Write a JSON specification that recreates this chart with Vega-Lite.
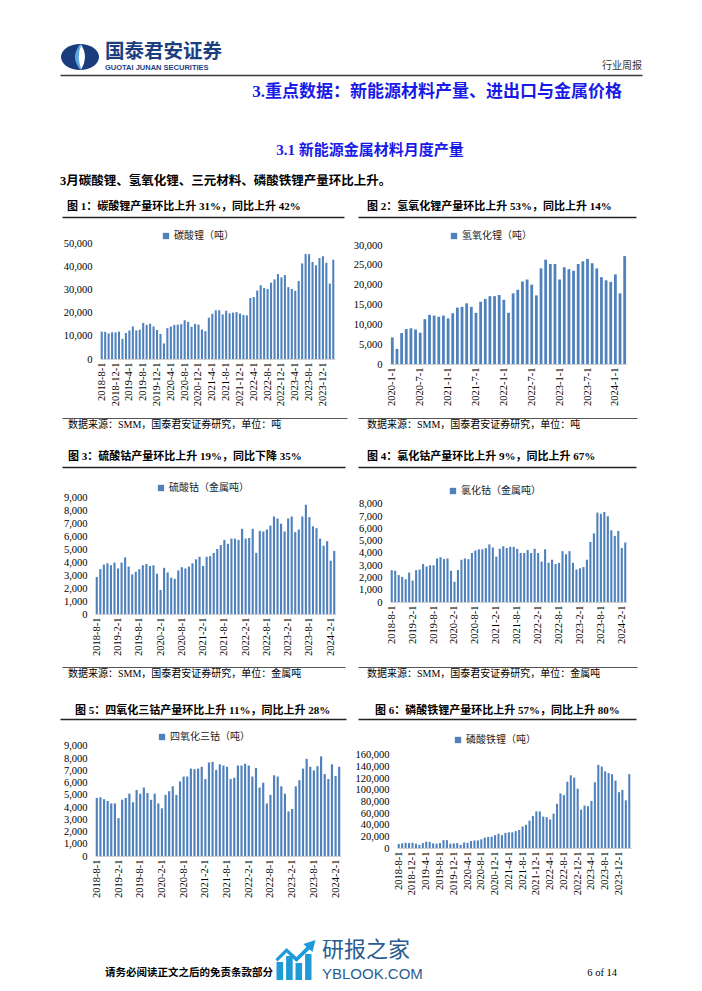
{
"$schema": "https://vega.github.io/schema/vega-lite/v6.json",
"padding": {"left": 60, "top": 42, "right": 55, "bottom": 0},
"background": "white",
"config": {
 "view": {"stroke": null},
 "font": "Noto Sans CJK SC",
 "axis": {"grid": false},
 "axisX": {"labelAngle": -90, "labelFont": "Liberation Serif", "labelFontSize": 10.5, "labelColor": "#000", "labelPadding": 3, "ticks": false, "domainColor": "#D0D0D0", "labelOverlap": false, "labelBound": false},
 "axisY": {"labelFont": "Liberation Serif", "labelFontSize": 10.5, "labelColor": "#000", "labelPadding": 8, "ticks": false, "domain": false, "labelExpr": "format(datum.value, ',')"},
 "legend": {"orient": "none", "direction": "horizontal", "symbolType": "square", "symbolSize": 40, "symbolStrokeWidth": 0, "labelFont": "Noto Sans CJK SC", "labelFontSize": 10, "labelColor": "#222", "padding": 0, "labelOffset": 3},
 "title": {"frame": "group", "color": "#000"}
},
"datasets": {
 "c1": [{"m":"2018-8-1","v":11800},{"m":"2018-9-1","v":11700},{"m":"2018-10-1","v":11000},{"m":"2018-11-1","v":11500},{"m":"2018-12-1","v":11500},{"m":"2019-1-1","v":11800},{"m":"2019-2-1","v":8700},{"m":"2019-3-1","v":11200},{"m":"2019-4-1","v":12300},{"m":"2019-5-1","v":14000},{"m":"2019-6-1","v":12300},{"m":"2019-7-1","v":12600},{"m":"2019-8-1","v":15500},{"m":"2019-9-1","v":14700},{"m":"2019-10-1","v":15200},{"m":"2019-11-1","v":14000},{"m":"2019-12-1","v":12500},{"m":"2020-1-1","v":10800},{"m":"2020-2-1","v":6700},{"m":"2020-3-1","v":13300},{"m":"2020-4-1","v":14000},{"m":"2020-5-1","v":14700},{"m":"2020-6-1","v":14800},{"m":"2020-7-1","v":15000},{"m":"2020-8-1","v":16700},{"m":"2020-9-1","v":16000},{"m":"2020-10-1","v":13900},{"m":"2020-11-1","v":15100},{"m":"2020-12-1","v":14800},{"m":"2021-1-1","v":12700},{"m":"2021-2-1","v":12000},{"m":"2021-3-1","v":17800},{"m":"2021-4-1","v":19500},{"m":"2021-5-1","v":21000},{"m":"2021-6-1","v":21000},{"m":"2021-7-1","v":19200},{"m":"2021-8-1","v":20800},{"m":"2021-9-1","v":19700},{"m":"2021-10-1","v":20000},{"m":"2021-11-1","v":20200},{"m":"2021-12-1","v":19600},{"m":"2022-1-1","v":19000},{"m":"2022-2-1","v":18800},{"m":"2022-3-1","v":26300},{"m":"2022-4-1","v":26700},{"m":"2022-5-1","v":29500},{"m":"2022-6-1","v":31800},{"m":"2022-7-1","v":30600},{"m":"2022-8-1","v":30200},{"m":"2022-9-1","v":32900},{"m":"2022-10-1","v":34300},{"m":"2022-11-1","v":36600},{"m":"2022-12-1","v":35200},{"m":"2023-1-1","v":36200},{"m":"2023-2-1","v":31000},{"m":"2023-3-1","v":30200},{"m":"2023-4-1","v":29400},{"m":"2023-5-1","v":33600},{"m":"2023-6-1","v":41200},{"m":"2023-7-1","v":45300},{"m":"2023-8-1","v":45200},{"m":"2023-9-1","v":41800},{"m":"2023-10-1","v":40400},{"m":"2023-11-1","v":43500},{"m":"2023-12-1","v":44300},{"m":"2024-1-1","v":41500},{"m":"2024-2-1","v":32500},{"m":"2024-3-1","v":42800}],
 "c2": [{"m":"2020-1-1","v":6700},{"m":"2020-2-1","v":3800},{"m":"2020-3-1","v":7800},{"m":"2020-4-1","v":8800},{"m":"2020-5-1","v":9000},{"m":"2020-6-1","v":8700},{"m":"2020-7-1","v":7900},{"m":"2020-8-1","v":11300},{"m":"2020-9-1","v":12400},{"m":"2020-10-1","v":12200},{"m":"2020-11-1","v":11900},{"m":"2020-12-1","v":12200},{"m":"2021-1-1","v":11500},{"m":"2021-2-1","v":12800},{"m":"2021-3-1","v":14200},{"m":"2021-4-1","v":14400},{"m":"2021-5-1","v":15300},{"m":"2021-6-1","v":14400},{"m":"2021-7-1","v":12900},{"m":"2021-8-1","v":15700},{"m":"2021-9-1","v":16400},{"m":"2021-10-1","v":17100},{"m":"2021-11-1","v":17100},{"m":"2021-12-1","v":17400},{"m":"2022-1-1","v":16200},{"m":"2022-2-1","v":12900},{"m":"2022-3-1","v":17800},{"m":"2022-4-1","v":18700},{"m":"2022-5-1","v":20800},{"m":"2022-6-1","v":21300},{"m":"2022-7-1","v":20000},{"m":"2022-8-1","v":17300},{"m":"2022-9-1","v":24100},{"m":"2022-10-1","v":26300},{"m":"2022-11-1","v":25200},{"m":"2022-12-1","v":25200},{"m":"2023-1-1","v":21300},{"m":"2023-2-1","v":24400},{"m":"2023-3-1","v":23900},{"m":"2023-4-1","v":23500},{"m":"2023-5-1","v":25200},{"m":"2023-6-1","v":25900},{"m":"2023-7-1","v":26500},{"m":"2023-8-1","v":25400},{"m":"2023-9-1","v":24100},{"m":"2023-10-1","v":21900},{"m":"2023-11-1","v":21100},{"m":"2023-12-1","v":20700},{"m":"2024-1-1","v":22600},{"m":"2024-2-1","v":17800},{"m":"2024-3-1","v":27200}],
 "c3": [{"m":"2018-8-1","v":2850},{"m":"2018-9-1","v":3450},{"m":"2018-10-1","v":3800},{"m":"2018-11-1","v":3900},{"m":"2018-12-1","v":3750},{"m":"2019-1-1","v":3950},{"m":"2019-2-1","v":3500},{"m":"2019-3-1","v":3950},{"m":"2019-4-1","v":4350},{"m":"2019-5-1","v":3650},{"m":"2019-6-1","v":3050},{"m":"2019-7-1","v":3250},{"m":"2019-8-1","v":3450},{"m":"2019-9-1","v":3750},{"m":"2019-10-1","v":3850},{"m":"2019-11-1","v":3700},{"m":"2019-12-1","v":3750},{"m":"2020-1-1","v":3100},{"m":"2020-2-1","v":1850},{"m":"2020-3-1","v":3550},{"m":"2020-4-1","v":3200},{"m":"2020-5-1","v":2800},{"m":"2020-6-1","v":2700},{"m":"2020-7-1","v":3350},{"m":"2020-8-1","v":3600},{"m":"2020-9-1","v":3500},{"m":"2020-10-1","v":3650},{"m":"2020-11-1","v":3900},{"m":"2020-12-1","v":4200},{"m":"2021-1-1","v":4400},{"m":"2021-2-1","v":3700},{"m":"2021-3-1","v":4400},{"m":"2021-4-1","v":4450},{"m":"2021-5-1","v":4700},{"m":"2021-6-1","v":5000},{"m":"2021-7-1","v":5300},{"m":"2021-8-1","v":5700},{"m":"2021-9-1","v":5400},{"m":"2021-10-1","v":5800},{"m":"2021-11-1","v":5800},{"m":"2021-12-1","v":5700},{"m":"2022-1-1","v":6550},{"m":"2022-2-1","v":5800},{"m":"2022-3-1","v":5850},{"m":"2022-4-1","v":6550},{"m":"2022-5-1","v":4700},{"m":"2022-6-1","v":6400},{"m":"2022-7-1","v":6350},{"m":"2022-8-1","v":6500},{"m":"2022-9-1","v":6800},{"m":"2022-10-1","v":7500},{"m":"2022-11-1","v":7350},{"m":"2022-12-1","v":6950},{"m":"2023-1-1","v":6350},{"m":"2023-2-1","v":7350},{"m":"2023-3-1","v":7500},{"m":"2023-4-1","v":6300},{"m":"2023-5-1","v":6500},{"m":"2023-6-1","v":7500},{"m":"2023-7-1","v":8400},{"m":"2023-8-1","v":7450},{"m":"2023-9-1","v":6750},{"m":"2023-10-1","v":6600},{"m":"2023-11-1","v":5800},{"m":"2023-12-1","v":5250},{"m":"2024-1-1","v":5600},{"m":"2024-2-1","v":4100},{"m":"2024-3-1","v":4850}],
 "c4": [{"m":"2018-8-1","v":2600},{"m":"2018-9-1","v":2550},{"m":"2018-10-1","v":2200},{"m":"2018-11-1","v":2050},{"m":"2018-12-1","v":1850},{"m":"2019-1-1","v":2400},{"m":"2019-2-1","v":1750},{"m":"2019-3-1","v":2600},{"m":"2019-4-1","v":2650},{"m":"2019-5-1","v":3100},{"m":"2019-6-1","v":2900},{"m":"2019-7-1","v":3000},{"m":"2019-8-1","v":3000},{"m":"2019-9-1","v":3550},{"m":"2019-10-1","v":3650},{"m":"2019-11-1","v":3500},{"m":"2019-12-1","v":3550},{"m":"2020-1-1","v":2550},{"m":"2020-2-1","v":1650},{"m":"2020-3-1","v":2600},{"m":"2020-4-1","v":3450},{"m":"2020-5-1","v":3550},{"m":"2020-6-1","v":3500},{"m":"2020-7-1","v":4000},{"m":"2020-8-1","v":4200},{"m":"2020-9-1","v":4300},{"m":"2020-10-1","v":4300},{"m":"2020-11-1","v":4400},{"m":"2020-12-1","v":4700},{"m":"2021-1-1","v":4450},{"m":"2021-2-1","v":3700},{"m":"2021-3-1","v":4350},{"m":"2021-4-1","v":4550},{"m":"2021-5-1","v":4400},{"m":"2021-6-1","v":4500},{"m":"2021-7-1","v":4500},{"m":"2021-8-1","v":4350},{"m":"2021-9-1","v":4000},{"m":"2021-10-1","v":4000},{"m":"2021-11-1","v":4250},{"m":"2021-12-1","v":4000},{"m":"2022-1-1","v":4350},{"m":"2022-2-1","v":4000},{"m":"2022-3-1","v":3300},{"m":"2022-4-1","v":4300},{"m":"2022-5-1","v":3200},{"m":"2022-6-1","v":3450},{"m":"2022-7-1","v":3100},{"m":"2022-8-1","v":3200},{"m":"2022-9-1","v":4150},{"m":"2022-10-1","v":3900},{"m":"2022-11-1","v":4150},{"m":"2022-12-1","v":3200},{"m":"2023-1-1","v":2650},{"m":"2023-2-1","v":2750},{"m":"2023-3-1","v":2850},{"m":"2023-4-1","v":3450},{"m":"2023-5-1","v":4900},{"m":"2023-6-1","v":5600},{"m":"2023-7-1","v":7300},{"m":"2023-8-1","v":7200},{"m":"2023-9-1","v":7350},{"m":"2023-10-1","v":7000},{"m":"2023-11-1","v":5850},{"m":"2023-12-1","v":5400},{"m":"2024-1-1","v":5800},{"m":"2024-2-1","v":4400},{"m":"2024-3-1","v":4850}],
 "c5": [{"m":"2018-8-1","v":4750},{"m":"2018-9-1","v":4800},{"m":"2018-10-1","v":4650},{"m":"2018-11-1","v":4500},{"m":"2018-12-1","v":4300},{"m":"2019-1-1","v":4300},{"m":"2019-2-1","v":3100},{"m":"2019-3-1","v":4600},{"m":"2019-4-1","v":4750},{"m":"2019-5-1","v":5100},{"m":"2019-6-1","v":4400},{"m":"2019-7-1","v":5400},{"m":"2019-8-1","v":5100},{"m":"2019-9-1","v":5600},{"m":"2019-10-1","v":5150},{"m":"2019-11-1","v":4600},{"m":"2019-12-1","v":5100},{"m":"2020-1-1","v":4300},{"m":"2020-2-1","v":3900},{"m":"2020-3-1","v":5000},{"m":"2020-4-1","v":5300},{"m":"2020-5-1","v":5700},{"m":"2020-6-1","v":5000},{"m":"2020-7-1","v":6100},{"m":"2020-8-1","v":6500},{"m":"2020-9-1","v":6500},{"m":"2020-10-1","v":7150},{"m":"2020-11-1","v":7100},{"m":"2020-12-1","v":7150},{"m":"2021-1-1","v":7300},{"m":"2021-2-1","v":6300},{"m":"2021-3-1","v":7650},{"m":"2021-4-1","v":7700},{"m":"2021-5-1","v":7050},{"m":"2021-6-1","v":7500},{"m":"2021-7-1","v":7400},{"m":"2021-8-1","v":7300},{"m":"2021-9-1","v":6300},{"m":"2021-10-1","v":6400},{"m":"2021-11-1","v":7400},{"m":"2021-12-1","v":7400},{"m":"2022-1-1","v":7550},{"m":"2022-2-1","v":7400},{"m":"2022-3-1","v":6500},{"m":"2022-4-1","v":7200},{"m":"2022-5-1","v":5600},{"m":"2022-6-1","v":6000},{"m":"2022-7-1","v":4300},{"m":"2022-8-1","v":5000},{"m":"2022-9-1","v":6600},{"m":"2022-10-1","v":6500},{"m":"2022-11-1","v":5700},{"m":"2022-12-1","v":5100},{"m":"2023-1-1","v":3650},{"m":"2023-2-1","v":3850},{"m":"2023-3-1","v":5700},{"m":"2023-4-1","v":6200},{"m":"2023-5-1","v":7150},{"m":"2023-6-1","v":7950},{"m":"2023-7-1","v":7300},{"m":"2023-8-1","v":7000},{"m":"2023-9-1","v":7350},{"m":"2023-10-1","v":8150},{"m":"2023-11-1","v":6700},{"m":"2023-12-1","v":6300},{"m":"2024-1-1","v":7500},{"m":"2024-2-1","v":6550},{"m":"2024-3-1","v":7300}],
 "c6": [{"m":"2018-8-1","v":7000},{"m":"2018-9-1","v":8000},{"m":"2018-10-1","v":9000},{"m":"2018-11-1","v":8500},{"m":"2018-12-1","v":9000},{"m":"2019-1-1","v":7500},{"m":"2019-2-1","v":5500},{"m":"2019-3-1","v":8500},{"m":"2019-4-1","v":11000},{"m":"2019-5-1","v":10500},{"m":"2019-6-1","v":8000},{"m":"2019-7-1","v":7500},{"m":"2019-8-1","v":8500},{"m":"2019-9-1","v":13500},{"m":"2019-10-1","v":13500},{"m":"2019-11-1","v":7500},{"m":"2019-12-1","v":8000},{"m":"2020-1-1","v":8500},{"m":"2020-2-1","v":5500},{"m":"2020-3-1","v":9500},{"m":"2020-4-1","v":9000},{"m":"2020-5-1","v":12000},{"m":"2020-6-1","v":13000},{"m":"2020-7-1","v":13000},{"m":"2020-8-1","v":15000},{"m":"2020-9-1","v":18000},{"m":"2020-10-1","v":19000},{"m":"2020-11-1","v":19500},{"m":"2020-12-1","v":22000},{"m":"2021-1-1","v":24500},{"m":"2021-2-1","v":22000},{"m":"2021-3-1","v":26000},{"m":"2021-4-1","v":27000},{"m":"2021-5-1","v":27000},{"m":"2021-6-1","v":29000},{"m":"2021-7-1","v":31000},{"m":"2021-8-1","v":37000},{"m":"2021-9-1","v":40000},{"m":"2021-10-1","v":47000},{"m":"2021-11-1","v":55000},{"m":"2021-12-1","v":63000},{"m":"2022-1-1","v":63000},{"m":"2022-2-1","v":54000},{"m":"2022-3-1","v":53000},{"m":"2022-4-1","v":49000},{"m":"2022-5-1","v":59000},{"m":"2022-6-1","v":76000},{"m":"2022-7-1","v":94000},{"m":"2022-8-1","v":91000},{"m":"2022-9-1","v":114000},{"m":"2022-10-1","v":125000},{"m":"2022-11-1","v":121000},{"m":"2022-12-1","v":102000},{"m":"2023-1-1","v":66000},{"m":"2023-2-1","v":73000},{"m":"2023-3-1","v":72000},{"m":"2023-4-1","v":81000},{"m":"2023-5-1","v":113000},{"m":"2023-6-1","v":143000},{"m":"2023-7-1","v":140000},{"m":"2023-8-1","v":132000},{"m":"2023-9-1","v":129000},{"m":"2023-10-1","v":127000},{"m":"2023-11-1","v":116000},{"m":"2023-12-1","v":96000},{"m":"2024-1-1","v":100000},{"m":"2024-2-1","v":82000},{"m":"2024-3-1","v":127000}]
},
"spacing": 0,
"resolve": {"scale": {"color": "independent"}, "legend": {"color": "independent"}},
"vconcat": [
 {"hconcat": [
   {"width": 40, "height": 26, "data": {"values": [{}]}, "layer": [
     {"mark": {"type": "point", "shape": "M-1,0 A1,0.68 0 1,1 1,0 A1,0.68 0 1,1 -1,0 Z", "size": 1444, "filled": true, "color": "#1B3C7C", "opacity": 1}},
     {"mark": {"type": "point", "shape": "M0.02,-0.68 Q-0.55,0 0.02,0.68 Q0.5,0 0.02,-0.68 Z", "size": 1444, "filled": true, "color": "#5AA7DC", "opacity": 1}},
     {"mark": {"type": "point", "shape": "M0.07,-0.64 Q-0.2,0 0.07,0.64 Q0.45,0 0.07,-0.64 Z", "size": 1444, "filled": true, "color": "#FFFFFF", "opacity": 1}}
   ]},
   {"width": 470, "height": 30, "data": {"values": []}, "mark": "point", "title": {"text": "国泰君安证券", "subtitle": "GUOTAI JUNAN SECURITIES", "orient": "top", "anchor": "start", "offset": -28, "dx": 5, "font": "Noto Sans CJK SC", "fontSize": 19.5, "fontWeight": "bold", "color": "#1D3E80", "subtitleFont": "Liberation Sans", "subtitleFontSize": 7.5, "subtitleFontWeight": "bold", "subtitleColor": "#1D3E80", "subtitlePadding": 1}},
   {"width": 72, "height": 30, "data": {"values": []}, "mark": "point", "title": {"text": "行业周报", "orient": "top", "anchor": "end", "offset": -27, "font": "Noto Sans CJK SC", "fontSize": 10, "fontWeight": "normal", "color": "#333"}}
  ], "spacing": 0, "bounds": "flush"},
 {"width": 582, "height": 1, "data": {"values": []}, "mark": "point", "encoding": {"x": {"field": "v", "type": "quantitative", "scale": {"domain": [0, 1]}, "axis": {"title": null, "labels": false, "ticks": false, "domain": true, "domainColor": "#3A3A3A", "domainWidth": 1.5}}}},
 {"width": 562, "height": 27, "data": {"values": []}, "mark": "point", "title": {"text": "3.重点数据：新能源材料产量、进出口与金属价格", "orient": "top", "anchor": "end", "offset": -26, "font": "Liberation Serif, Noto Sans CJK SC", "fontSize": 17, "fontWeight": "bold", "color": "#1A1AE6"}},
 {"width": 582, "height": 57, "data": {"values": []}, "mark": "point", "title": {"text": "3.1 新能源金属材料月度产量", "orient": "top", "anchor": "middle", "dx": 19, "offset": -56, "font": "Liberation Serif, Noto Sans CJK SC", "fontSize": 15, "fontWeight": "bold", "color": "#1A1AE6"}},
 {"width": 582, "height": 29, "data": {"values": []}, "mark": "point", "title": {"text": "3月碳酸锂、氢氧化锂、三元材料、磷酸铁锂产量环比上升。", "orient": "top", "anchor": "start", "offset": -28, "font": "Liberation Serif, Noto Sans CJK SC", "fontSize": 12.5, "fontWeight": "bold", "color": "#000"}},
 {"hconcat": [
   {"width": 2, "height": 1, "data": {"values": []}, "mark": "point"},
   {"width": 282, "height": 29, "data": {"values": []}, "mark": "point", "encoding": {"x": {"field": "v", "type": "quantitative", "scale": {"domain": [0, 1]}, "axis": {"title": null, "labels": false, "ticks": false, "domain": true, "domainColor": "#222", "domainWidth": 1.5}}}, "title": {"text": "图 1：碳酸锂产量环比上升 31%，同比上升 42%", "orient": "top", "anchor": "start", "dx": 5, "offset": -24, "font": "Liberation Serif, Noto Sans CJK SC", "fontSize": 11, "fontWeight": "bold"}},
   {"width": 14, "height": 1, "data": {"values": []}, "mark": "point"},
   {"width": 278, "height": 29, "data": {"values": []}, "mark": "point", "encoding": {"x": {"field": "v", "type": "quantitative", "scale": {"domain": [0, 1]}, "axis": {"title": null, "labels": false, "ticks": false, "domain": true, "domainColor": "#222", "domainWidth": 1.5}}}, "title": {"text": "图 2：氢氧化锂产量环比上升 53%，同比上升 14%", "orient": "top", "anchor": "start", "dx": 9, "offset": -24, "font": "Liberation Serif, Noto Sans CJK SC", "fontSize": 11, "fontWeight": "bold"}}
  ], "spacing": 0, "bounds": "flush"},
 {"hconcat": [
   {"width": 40, "height": 201, "data": {"values": []}, "mark": "point"},
   {"width": 235, "height": 142, "data": {"name": "c1"}, "mark": "bar",
    "encoding": {
     "x": {"field": "m", "type": "ordinal", "sort": null, "scale": {"paddingInner": 0.4, "paddingOuter": 0.2}, "axis": {"title": null, "values": ["2018-8-1","2018-12-1","2019-4-1","2019-8-1","2019-12-1","2020-4-1","2020-8-1","2020-12-1","2021-4-1","2021-8-1","2021-12-1","2022-4-1","2022-8-1","2022-12-1","2023-4-1","2023-8-1","2023-12-1"]}},
     "y": {"field": "v", "type": "quantitative", "scale": {"domain": [0, 61207], "nice": false}, "axis": {"title": null, "values": [0,10000,20000,30000,40000,50000]}},
     "color": {"datum": "碳酸锂（吨）", "type": "nominal", "scale": {"range": ["#4F81BD"]}, "legend": {"title": null, "legendX": 61, "legendY": 14}}
    }},
   {"width": 55, "height": 1, "data": {"values": []}, "mark": "point"},
   {"width": 237, "height": 147, "data": {"name": "c2"}, "mark": "bar",
    "encoding": {
     "x": {"field": "m", "type": "ordinal", "sort": null, "scale": {"paddingInner": 0.4, "paddingOuter": 0.2}, "axis": {"title": null, "values": ["2020-1-1","2020-7-1","2021-1-1","2021-7-1","2022-1-1","2022-7-1","2023-1-1","2023-7-1","2024-1-1"]}},
     "y": {"field": "v", "type": "quantitative", "scale": {"domain": [0, 37059], "nice": false}, "axis": {"title": null, "values": [0,5000,10000,15000,20000,25000,30000]}},
     "color": {"datum": "氢氧化锂（吨）", "type": "nominal", "scale": {"range": ["#4F81BD"]}, "legend": {"title": null, "legendX": 59, "legendY": 14}}
    }}
  ], "spacing": 0, "bounds": "flush", "resolve": {"scale": {"color": "independent"}, "legend": {"color": "independent"}}},
 {"hconcat": [
   {"width": 2, "height": 1, "data": {"values": []}, "mark": "point"},
   {"width": 285, "height": 14, "data": {"values": []}, "mark": "point", "encoding": {"x": {"field": "v", "type": "quantitative", "scale": {"domain": [0, 1]}, "axis": {"orient": "top", "title": null, "labels": false, "ticks": false, "domain": true, "domainColor": "#555", "domainWidth": 1.2}}}, "title": {"text": "数据来源：SMM，国泰君安证券研究，单位：吨", "orient": "bottom", "anchor": "start", "dx": 6, "offset": -12, "font": "Liberation Serif, Noto Sans CJK SC", "fontSize": 10, "fontWeight": "normal"}},
   {"width": 11, "height": 1, "data": {"values": []}, "mark": "point"},
   {"width": 279, "height": 14, "data": {"values": []}, "mark": "point", "encoding": {"x": {"field": "v", "type": "quantitative", "scale": {"domain": [0, 1]}, "axis": {"orient": "top", "title": null, "labels": false, "ticks": false, "domain": true, "domainColor": "#555", "domainWidth": 1.2}}}, "title": {"text": "数据来源：SMM，国泰君安证券研究，单位：吨", "orient": "bottom", "anchor": "start", "dx": 9, "offset": -12, "font": "Liberation Serif, Noto Sans CJK SC", "fontSize": 10, "fontWeight": "normal"}}
  ], "spacing": 0, "bounds": "flush"},
 {"hconcat": [
   {"width": 2, "height": 1, "data": {"values": []}, "mark": "point"},
   {"width": 283, "height": 35, "data": {"values": []}, "mark": "point", "encoding": {"x": {"field": "v", "type": "quantitative", "scale": {"domain": [0, 1]}, "axis": {"title": null, "labels": false, "ticks": false, "domain": true, "domainColor": "#222", "domainWidth": 1.5}}}, "title": {"text": "图 3：硫酸钴产量环比上升 19%，同比下降 35%", "orient": "top", "anchor": "start", "dx": 6, "offset": -30, "font": "Liberation Serif, Noto Sans CJK SC", "fontSize": 11, "fontWeight": "bold"}},
   {"width": 13, "height": 1, "data": {"values": []}, "mark": "point"},
   {"width": 278, "height": 35, "data": {"values": []}, "mark": "point", "encoding": {"x": {"field": "v", "type": "quantitative", "scale": {"domain": [0, 1]}, "axis": {"title": null, "labels": false, "ticks": false, "domain": true, "domainColor": "#222", "domainWidth": 1.5}}}, "title": {"text": "图 4：氯化钴产量环比上升 9%，同比上升 67%", "orient": "top", "anchor": "start", "dx": 9, "offset": -30, "font": "Liberation Serif, Noto Sans CJK SC", "fontSize": 11, "fontWeight": "bold"}}
  ], "spacing": 0, "bounds": "flush"},
 {"hconcat": [
   {"width": 35, "height": 200, "data": {"values": []}, "mark": "point"},
   {"width": 241, "height": 147, "data": {"name": "c3"}, "mark": "bar",
    "encoding": {
     "x": {"field": "m", "type": "ordinal", "sort": null, "scale": {"paddingInner": 0.4, "paddingOuter": 0.2}, "axis": {"title": null, "values": ["2018-8-1","2019-2-1","2019-8-1","2020-2-1","2020-8-1","2021-2-1","2021-8-1","2022-2-1","2022-8-1","2023-2-1","2023-8-1","2024-2-1"]}},
     "y": {"field": "v", "type": "quantitative", "scale": {"domain": [0, 11308], "nice": false}, "axis": {"title": null, "values": [0,1000,2000,3000,4000,5000,6000,7000,8000,9000]}},
     "color": {"datum": "硫酸钴（金属吨）", "type": "nominal", "scale": {"range": ["#4F81BD"]}, "legend": {"title": null, "legendX": 61, "legendY": 16}}
    }},
   {"width": 54, "height": 1, "data": {"values": []}, "mark": "point"},
   {"width": 237, "height": 135, "data": {"name": "c4"}, "mark": "bar",
    "encoding": {
     "x": {"field": "m", "type": "ordinal", "sort": null, "scale": {"paddingInner": 0.4, "paddingOuter": 0.2}, "axis": {"title": null, "values": ["2018-8-1","2019-2-1","2019-8-1","2020-2-1","2020-8-1","2021-2-1","2021-8-1","2022-2-1","2022-8-1","2023-2-1","2023-8-1","2024-2-1"]}},
     "y": {"field": "v", "type": "quantitative", "scale": {"domain": [0, 11020], "nice": false}, "axis": {"title": null, "values": [0,1000,2000,3000,4000,5000,6000,7000,8000]}},
     "color": {"datum": "氯化钴（金属吨）", "type": "nominal", "scale": {"range": ["#4F81BD"]}, "legend": {"title": null, "legendX": 58, "legendY": 19}}
    }}
  ], "spacing": 0, "bounds": "flush", "resolve": {"scale": {"color": "independent"}, "legend": {"color": "independent"}}},
 {"hconcat": [
   {"width": 2, "height": 1, "data": {"values": []}, "mark": "point"},
   {"width": 283, "height": 14, "data": {"values": []}, "mark": "point", "encoding": {"x": {"field": "v", "type": "quantitative", "scale": {"domain": [0, 1]}, "axis": {"orient": "top", "title": null, "labels": false, "ticks": false, "domain": true, "domainColor": "#555", "domainWidth": 1.2}}}, "title": {"text": "数据来源：SMM，国泰君安证券研究，单位：金属吨", "orient": "bottom", "anchor": "start", "dx": 6, "offset": -12, "font": "Liberation Serif, Noto Sans CJK SC", "fontSize": 10, "fontWeight": "normal"}},
   {"width": 13, "height": 1, "data": {"values": []}, "mark": "point"},
   {"width": 279, "height": 14, "data": {"values": []}, "mark": "point", "encoding": {"x": {"field": "v", "type": "quantitative", "scale": {"domain": [0, 1]}, "axis": {"orient": "top", "title": null, "labels": false, "ticks": false, "domain": true, "domainColor": "#555", "domainWidth": 1.2}}}, "title": {"text": "数据来源：SMM，国泰君安证券研究，单位：金属吨", "orient": "bottom", "anchor": "start", "dx": 9, "offset": -12, "font": "Liberation Serif, Noto Sans CJK SC", "fontSize": 10, "fontWeight": "normal"}}
  ], "spacing": 0, "bounds": "flush"},
 {"hconcat": [
   {"width": 286, "height": 38, "data": {"values": []}, "mark": "point", "encoding": {"x": {"field": "v", "type": "quantitative", "scale": {"domain": [0, 1]}, "axis": {"title": null, "labels": false, "ticks": false, "domain": true, "domainColor": "#222", "domainWidth": 1.5}}}, "title": {"text": "图 5：四氧化三钴产量环比上升 11%，同比上升 28%", "orient": "top", "anchor": "start", "dx": 15, "offset": -35, "font": "Liberation Serif, Noto Sans CJK SC", "fontSize": 11, "fontWeight": "bold"}},
   {"width": 12, "height": 1, "data": {"values": []}, "mark": "point"},
   {"width": 278, "height": 38, "data": {"values": []}, "mark": "point", "encoding": {"x": {"field": "v", "type": "quantitative", "scale": {"domain": [0, 1]}, "axis": {"title": null, "labels": false, "ticks": false, "domain": true, "domainColor": "#222", "domainWidth": 1.5}}}, "title": {"text": "图 6：磷酸铁锂产量环比上升 57%，同比上升 80%", "orient": "top", "anchor": "start", "dx": 17, "offset": -35, "font": "Liberation Serif, Noto Sans CJK SC", "fontSize": 11, "fontWeight": "bold"}}
  ], "spacing": 0, "bounds": "flush"},
 {"hconcat": [
   {"width": 35, "height": 219, "data": {"values": []}, "mark": "point"},
   {"width": 246, "height": 137, "data": {"name": "c5"}, "mark": "bar",
    "encoding": {
     "x": {"field": "m", "type": "ordinal", "sort": null, "scale": {"paddingInner": 0.4, "paddingOuter": 0.2}, "axis": {"title": null, "values": ["2018-8-1","2019-2-1","2019-8-1","2020-2-1","2020-8-1","2021-2-1","2021-8-1","2022-2-1","2022-8-1","2023-2-1","2023-8-1","2024-2-1"]}},
     "y": {"field": "v", "type": "quantitative", "scale": {"domain": [0, 11209], "nice": false}, "axis": {"title": null, "values": [0,1000,2000,3000,4000,5000,6000,7000,8000,9000]}},
     "color": {"datum": "四氧化三钴（吨）", "type": "nominal", "scale": {"range": ["#4F81BD"]}, "legend": {"title": null, "legendX": 62, "legendY": 13}}
    }},
   {"width": 56, "height": 1, "data": {"values": []}, "mark": "point"},
   {"width": 234, "height": 129, "data": {"name": "c6"}, "mark": "bar",
    "encoding": {
     "x": {"field": "m", "type": "ordinal", "sort": null, "scale": {"paddingInner": 0.4, "paddingOuter": 0.2}, "axis": {"title": null, "values": ["2018-8-1","2018-12-1","2019-4-1","2019-8-1","2019-12-1","2020-4-1","2020-8-1","2020-12-1","2021-4-1","2021-8-1","2021-12-1","2022-4-1","2022-8-1","2022-12-1","2023-4-1","2023-8-1","2023-12-1"]}},
     "y": {"field": "v", "type": "quantitative", "scale": {"domain": [0, 221935], "nice": false}, "axis": {"title": null, "values": [0,20000,40000,60000,80000,100000,120000,140000,160000]}},
     "color": {"datum": "磷酸铁锂（吨）", "type": "nominal", "scale": {"range": ["#4F81BD"]}, "legend": {"title": null, "legendX": 56, "legendY": 16}}
    }}
  ], "spacing": 0, "bounds": "flush", "resolve": {"scale": {"color": "independent"}, "legend": {"color": "independent"}}},
 {"hconcat": [
   {"width": 43, "height": 1, "data": {"values": []}, "mark": "point"},
   {"width": 170, "height": 44, "data": {"values": []}, "mark": "point", "title": {"text": "请务必阅读正文之后的免责条款部分", "orient": "bottom", "anchor": "start", "dx": 2, "offset": -14, "font": "Noto Sans CJK SC", "fontSize": 10.5, "fontWeight": "bold"}},
   {"width": 45, "height": 44, "data": {"values": [{}]}, "mark": {"type": "point", "shape": "M-0.95,0.1 H-0.62 V1 H-0.95 Z M-0.47,-0.2 H-0.14 V1 H-0.47 Z M0.0,0.15 H0.33 V1 H0.0 Z M0.48,-0.3 H0.8 V1 H0.48 Z M-1,-0.05 L-0.45,-0.6 L0.05,-0.15 L0.55,-0.65 L0.4,-0.8 L1,-1 L0.85,-0.4 L0.7,-0.52 L0.05,0.1 L-0.45,-0.38 L-0.9,0.08 Z", "size": 1600, "filled": true, "color": "#1E9BD7", "opacity": 1}},
   {"width": 112, "height": 44, "data": {"values": []}, "mark": "point", "title": {"text": "研报之家", "subtitle": "YBLOOK.COM", "orient": "bottom", "anchor": "start", "dx": 4, "offset": -42, "font": "Noto Sans CJK SC", "fontSize": 22, "fontWeight": "normal", "color": "#2A5D8F", "subtitleFont": "Liberation Sans", "subtitleFontSize": 15, "subtitleColor": "#2A5D8F", "subtitlePadding": 5}},
   {"width": 187, "height": 44, "data": {"values": []}, "mark": "point", "title": {"text": "6 of 14", "orient": "bottom", "anchor": "end", "offset": -14, "font": "Liberation Serif", "fontSize": 10.5, "fontWeight": "normal"}}
  ], "spacing": 0, "bounds": "flush"}
]
}
